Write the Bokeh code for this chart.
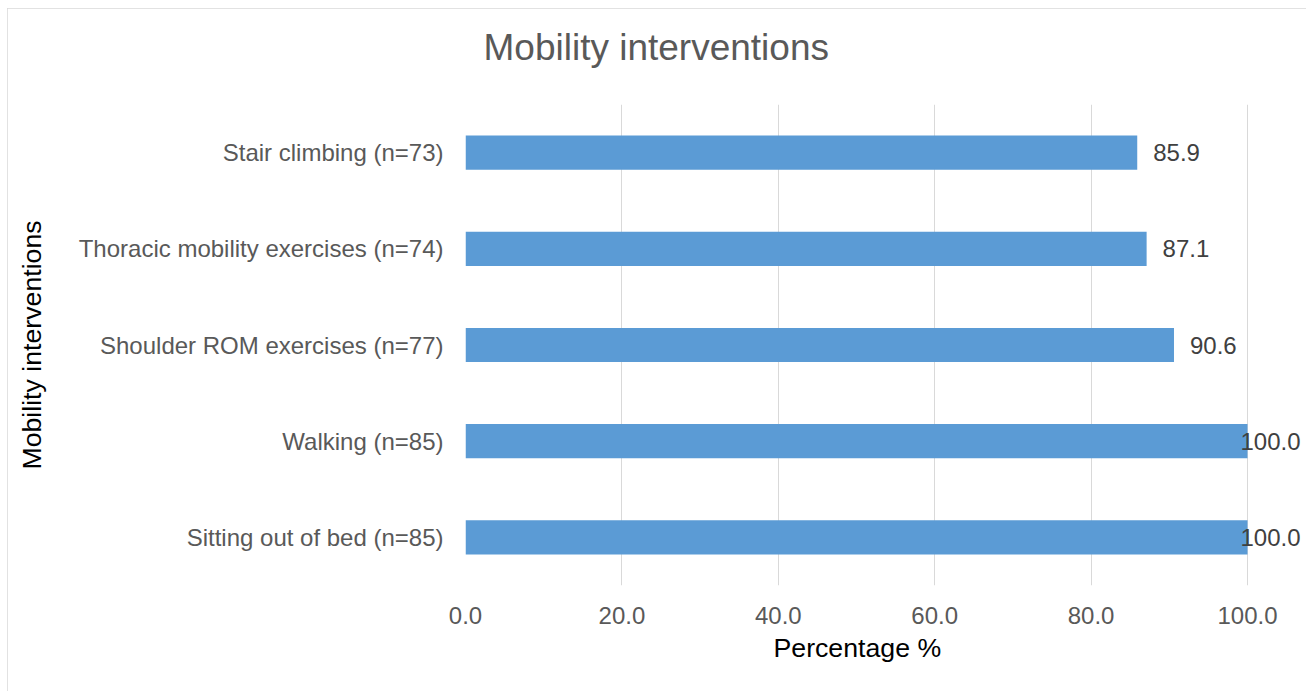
from bokeh.plotting import figure
from bokeh.models import Range1d, FactorRange, FixedTicker, CustomJSTickFormatter, ColumnDataSource, Title, LabelSet
from bokeh.core.properties import value
from bokeh.embed import file_html
from bokeh.resources import INLINE

categories = [
    "Sitting out of bed (n=85)",
    "Walking (n=85)",
    "Shoulder ROM exercises (n=77)",
    "Thoracic mobility exercises (n=74)",
    "Stair climbing (n=73)",
]
percentages = [100.0, 100.0, 90.6, 87.1, 85.9]
x_ticks = [0, 20, 40, 60, 80, 100]

FONT = "Liberation Sans"

W, H = 1299, 683
B_LEFT, B_RIGHT = 458, 4
AXIS_PX = 782  # pixels spanned by 0..100
frame_w = W - B_LEFT - B_RIGHT
x_end = 100.0 * frame_w / AXIS_PX

p = figure(
    width=W, height=H,
    y_range=FactorRange(factors=categories, range_padding=0),
    x_range=Range1d(0, x_end),
    output_backend="svg", toolbar_location=None,
    min_border_left=B_LEFT, min_border_right=B_RIGHT,
    min_border_top=96, min_border_bottom=106,
)
p.styles = {"margin-left": "7px", "margin-top": "8px",
            "outline": "2px solid #D9D9D9", "outline-offset": "-2px"}
p.outline_line_color = None
p.background_fill_color = "white"
p.border_fill_color = "white"

# spacer between frame and title
spacer = Title(text=" ", text_font=FONT, text_font_size="1px", standoff=34)
p.add_layout(spacer, "above")
t = Title(text="Mobility interventions", align="left", offset=18,
          text_font=FONT, text_font_size="37px", text_font_style="normal",
          text_color="#595959", standoff=0)
p.add_layout(t, "above")

labels = [f"{v:.1f}" for v in percentages]
offsets = [16 if v < 99 else -7 for v in percentages]
src = ColumnDataSource(dict(cat=categories, val=percentages, lab=labels, off=offsets))

p.hbar(y="cat", right="val", left=0, height=0.355, source=src,
       fill_color="#5B9BD5", line_color=None)
ls = LabelSet(x="val", y="cat", text="lab", x_offset="off", source=src,
              text_font=value(FONT), text_font_size="24px", text_color="#404040",
              text_align="left", text_baseline="middle")
p.add_layout(ls)

p.xgrid.ticker = FixedTicker(ticks=x_ticks)
p.xgrid.grid_line_color = "#D9D9D9"
p.xgrid.grid_line_width = 1
p.ygrid.grid_line_color = None

p.xaxis.ticker = FixedTicker(ticks=x_ticks)
p.xaxis.formatter = CustomJSTickFormatter(code="return tick.toFixed(1);")
for ax in (p.xaxis, p.yaxis):
    ax.axis_line_color = None
    ax.major_tick_line_color = None
    ax.minor_tick_line_color = None
    ax.major_label_text_font = FONT
    ax.major_label_text_font_size = "24px"
    ax.major_label_text_color = "#595959"
    ax.axis_label_text_font = FONT
    ax.axis_label_text_font_size = "26.7px"
    ax.axis_label_text_font_style = "normal"
    ax.axis_label_text_color = "#000000"

p.xaxis.major_label_standoff = 15
xt = Title(text="Percentage %", align="left", offset=308,
           text_font=FONT, text_font_size="26.7px", text_font_style="normal",
           text_color="#000000", standoff=8)
p.add_layout(xt, "below")

p.yaxis.axis_label = "Mobility interventions"
p.yaxis.major_label_standoff = 16
p.yaxis.axis_label_standoff = 29

open("out.html", "w").write(file_html(p, INLINE))
